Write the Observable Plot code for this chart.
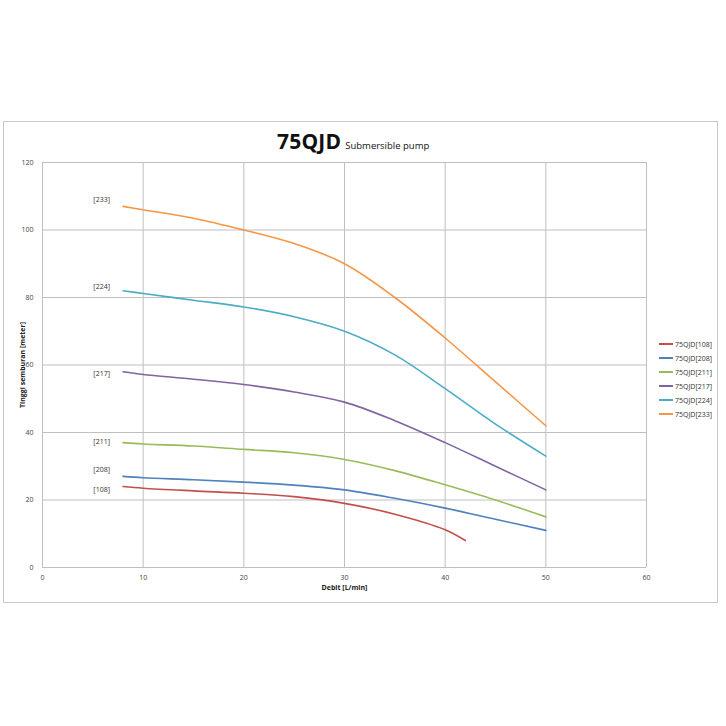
<!DOCTYPE html>
<html><head><meta charset="utf-8">
<script src="https://cdn.jsdelivr.net/npm/d3@7"></script>
<script src="https://cdn.jsdelivr.net/npm/@observablehq/plot@0.6"></script>
<style>
body{margin:0;background:#fff;font-family:"Open Sans","Liberation Sans",sans-serif;}
#wrap{position:relative;width:726px;height:726px;overflow:hidden;}
#frame{position:absolute;left:3px;top:121px;width:715px;height:482px;border:1px solid #c8c8c8;box-sizing:border-box;}
#title{position:absolute;left:277px;top:127px;white-space:nowrap;color:#111;}
#title b{font-size:21px;font-weight:700;letter-spacing:0.2px;}
#title span{font-size:9.5px;margin-left:4px;}
#legend{position:absolute;left:659px;top:337px;font-size:7px;color:#333;}
#legend div{height:14px;display:flex;align-items:center;}
#legend i{display:inline-block;width:14px;height:2px;margin-right:2px;}
svg{position:absolute;left:0;top:0;}
</style></head><body>
<div id="wrap">
<div id="frame"></div>
<div id="title"><b>75QJD</b><span>Submersible pump</span></div>
<div id="legend"></div>
</div>
<script>
const seriesNames = ["108","208","211","217","224","233"];
const seriesColors = ["#c0504d","#4f81bd","#9bbb59","#8064a2","#4bacc6","#f79646"];
const flow = [8,10,15,20,25,30,35,40,45,50];
const flow108 = [8,10,15,20,25,30,35,40,42];
const head108 = [24,23.5,22.7,22,21,19,15.8,11.2,8];
const head208 = [27,26.6,26,25.3,24.4,23,20.5,17.6,14.3,11];
const head211 = [37,36.6,36,35,34,32,28.7,24.5,20,15];
const head217 = [58,57.2,55.8,54.2,52,49,43.5,37,30,23];
const head224 = [82,81.2,79.2,77.2,74.3,70,63,53,42.5,33];
const head233 = [107,106,103.5,100,96,90,80,68,55,42];
const labelY = [23.1,29,37.3,57.5,83.3,109];
const xTicks = [0,10,20,30,40,50,60];
const yTicks = [0,20,40,60,80,100,120];

const heads = [head108,head208,head211,head217,head224,head233];
const rows = [];
seriesNames.forEach((s,i)=>{
  const xs = i===0 ? flow108 : flow;
  xs.forEach((x,j)=>rows.push({s, x, y: heads[i][j]}));
});
const labels = seriesNames.map((s,i)=>({s, x:6.7, y:labelY[i], t:"["+s+"]"}));

const chart = Plot.plot({
  width:726, height:726,
  marginLeft:42, marginRight:80, marginTop:162, marginBottom:159,
  style:{fontFamily:"'Open Sans','Liberation Sans',sans-serif", fontSize:"7px", color:"#444", background:"transparent"},
  x:{domain:[0,60], ticks:xTicks, label:null},
  y:{domain:[0,120], ticks:yTicks, label:null},
  color:{domain:seriesNames, range:seriesColors},
  marks:[
    Plot.gridX(xTicks,{stroke:"#bfbfbf", strokeOpacity:1, strokeWidth:1}),
    Plot.gridY(yTicks,{stroke:"#bfbfbf", strokeOpacity:1, strokeWidth:1}),
    Plot.axisX({ticks:xTicks, tickSize:0, tickPadding:8, fontSize:7, fill:"#444", label:"Debit [L/min]", labelAnchor:"center", labelArrow:"none", labelOffset:22}),
    Plot.axisY({ticks:yTicks, tickSize:0, tickPadding:9, fontSize:7, fill:"#444", label:"Tinggi semburan [meter]", labelAnchor:"center", labelArrow:"none", labelOffset:22}),
    Plot.line(rows,{x:"x", y:"y", z:"s", stroke:"s", strokeWidth:1.6, curve:"catmull-rom"}),
    Plot.text(labels,{x:"x", y:"y", text:"t", textAnchor:"end", fontSize:7, fill:"#333"})
  ]
});
chart.querySelectorAll("[aria-label='x-axis label'] text, [aria-label='y-axis label'] text").forEach(t=>{t.setAttribute("font-weight","bold");t.setAttribute("fill","#222");});
document.getElementById("wrap").appendChild(chart);

const lg = document.getElementById("legend");
seriesNames.forEach((s,i)=>{
  const d=document.createElement("div");
  d.innerHTML=`<i style="background:${seriesColors[i]}"></i>75QJD[${s}]`;
  lg.appendChild(d);
});
</script>
</body></html>
